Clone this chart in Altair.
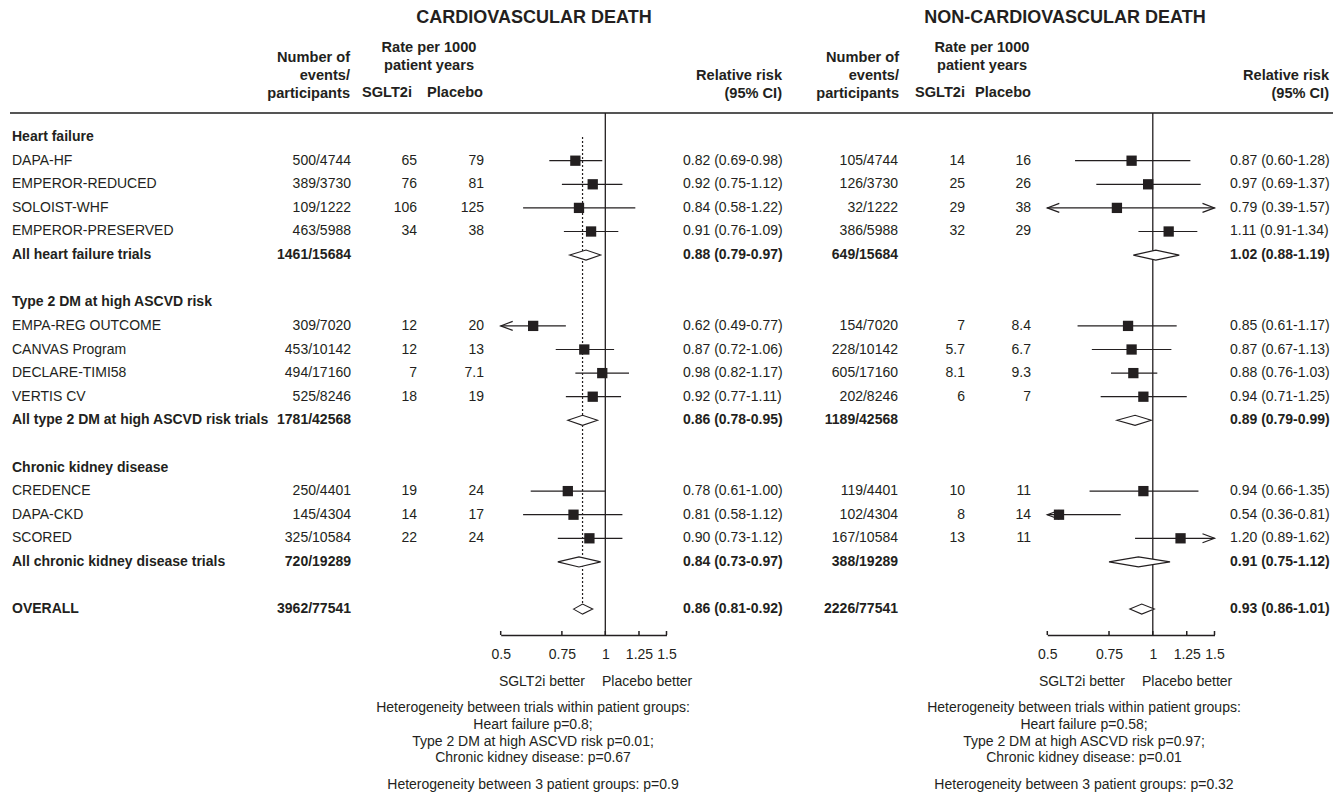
import altair as alt
import pandas as pd

FONT = "Liberation Sans"
INK = "#231f20"
FS = 14
HFS = 14.6

# ---------------- data ----------------
group_names = ["Heart failure", "Type 2 DM at high ASCVD risk", "Chronic kidney disease"]
pooled_names = ["All heart failure trials", "All type 2 DM at high ASCVD risk trials",
                "All chronic kidney disease trials", "OVERALL"]
trial_names = ["DAPA-HF", "EMPEROR-REDUCED", "SOLOIST-WHF", "EMPEROR-PRESERVED",
               "EMPA-REG OUTCOME", "CANVAS Program", "DECLARE-TIMI58", "VERTIS CV",
               "CREDENCE", "DAPA-CKD", "SCORED"]
trial_group = [0, 0, 0, 0, 1, 1, 1, 1, 2, 2, 2]

# Cardiovascular death
cv_events = ["500/4744", "389/3730", "109/1222", "463/5988", "309/7020", "453/10142",
             "494/17160", "525/8246", "250/4401", "145/4304", "325/10584"]
cv_rate_sglt2 = ["65", "76", "106", "34", "12", "12", "7", "18", "19", "14", "22"]
cv_rate_plac = ["79", "81", "125", "38", "20", "13", "7.1", "19", "24", "17", "24"]
cv_rr = [0.82, 0.92, 0.84, 0.91, 0.62, 0.87, 0.98, 0.92, 0.78, 0.81, 0.90]
cv_lo = [0.69, 0.75, 0.58, 0.76, 0.49, 0.72, 0.82, 0.77, 0.61, 0.58, 0.73]
cv_hi = [0.98, 1.12, 1.22, 1.09, 0.77, 1.06, 1.17, 1.11, 1.00, 1.12, 1.12]
cv_pooled_events = ["1461/15684", "1781/42568", "720/19289", "3962/77541"]
cv_pooled_rr = [0.88, 0.86, 0.84, 0.86]
cv_pooled_lo = [0.79, 0.78, 0.73, 0.81]
cv_pooled_hi = [0.97, 0.95, 0.97, 0.92]

# Non-cardiovascular death
ncv_events = ["105/4744", "126/3730", "32/1222", "386/5988", "154/7020", "228/10142",
              "605/17160", "202/8246", "119/4401", "102/4304", "167/10584"]
ncv_rate_sglt2 = ["14", "25", "29", "32", "7", "5.7", "8.1", "6", "10", "8", "13"]
ncv_rate_plac = ["16", "26", "38", "29", "8.4", "6.7", "9.3", "7", "11", "14", "11"]
ncv_rr = [0.87, 0.97, 0.79, 1.11, 0.85, 0.87, 0.88, 0.94, 0.94, 0.54, 1.20]
ncv_lo = [0.60, 0.69, 0.39, 0.91, 0.61, 0.67, 0.76, 0.71, 0.66, 0.36, 0.89]
ncv_hi = [1.28, 1.37, 1.57, 1.34, 1.17, 1.13, 1.03, 1.25, 1.35, 0.81, 1.62]
ncv_pooled_events = ["649/15684", "1189/42568", "388/19289", "2226/77541"]
ncv_pooled_rr = [1.02, 0.89, 0.91, 0.93]
ncv_pooled_lo = [0.88, 0.79, 0.75, 0.86]
ncv_pooled_hi = [1.19, 0.99, 1.12, 1.01]

axis_ticks = [0.5, 0.75, 1, 1.25, 1.5]

cv_notes = ["Heterogeneity between trials within patient groups:", "Heart failure p=0.8;",
            "Type 2 DM at high ASCVD risk p=0.01;", "Chronic kidney disease: p=0.67",
            "Heterogeneity between 3 patient groups: p=0.9"]
ncv_notes = ["Heterogeneity between trials within patient groups:", "Heart failure p=0.58;",
             "Type 2 DM at high ASCVD risk p=0.97;", "Chronic kidney disease: p=0.01",
             "Heterogeneity between 3 patient groups: p=0.32"]

# ---------------- row layout ----------------
heading_rows, trial_rows, pooled_rows = [], [], []
r = 0
for g in range(len(group_names)):
    heading_rows.append(r)
    r += 1
    for tg in trial_group:
        if tg == g:
            trial_rows.append(r)
            r += 1
    pooled_rows.append(r)
    r += 2
pooled_rows.append(r)  # overall


def ci_text(a, b, c):
    return [f"{x:.2f} ({y:.2f}-{z:.2f})" for x, y, z in zip(a, b, c)]


trials = pd.DataFrame({
    "row": trial_rows, "name": trial_names,
    "cv_ev": cv_events, "cv_s": cv_rate_sglt2, "cv_p": cv_rate_plac,
    "cv_rr": cv_rr, "cv_lo": cv_lo, "cv_hi": cv_hi, "cv_txt": ci_text(cv_rr, cv_lo, cv_hi),
    "ncv_ev": ncv_events, "ncv_s": ncv_rate_sglt2, "ncv_p": ncv_rate_plac,
    "ncv_rr": ncv_rr, "ncv_lo": ncv_lo, "ncv_hi": ncv_hi,
    "ncv_txt": ci_text(ncv_rr, ncv_lo, ncv_hi),
})
pooled = pd.DataFrame({
    "row": pooled_rows, "name": pooled_names,
    "cv_ev": cv_pooled_events, "cv_rr": cv_pooled_rr, "cv_lo": cv_pooled_lo, "cv_hi": cv_pooled_hi,
    "cv_txt": ci_text(cv_pooled_rr, cv_pooled_lo, cv_pooled_hi),
    "ncv_ev": ncv_pooled_events, "ncv_rr": ncv_pooled_rr, "ncv_lo": ncv_pooled_lo,
    "ncv_hi": ncv_pooled_hi,
    "ncv_txt": ci_text(ncv_pooled_rr, ncv_pooled_lo, ncv_pooled_hi),
})
headings = pd.DataFrame({"row": heading_rows, "name": group_names})
ticks_df = pd.DataFrame({"t": axis_ticks})

HALF = 0.212  # half height of diamonds in row units


def diamond_df(p):
    recs = []
    for rr_, e, lo, hi in zip(pooled["row"], pooled[p + "_rr"], pooled[p + "_lo"], pooled[p + "_hi"]):
        recs.append({"row": rr_, "x": lo, "yt": rr_, "yb": rr_})
        recs.append({"row": rr_, "x": e, "yt": rr_ - HALF, "yb": rr_ + HALF})
        recs.append({"row": rr_, "x": hi, "yt": rr_, "yb": rr_})
    return pd.DataFrame(recs)


one = pd.DataFrame({"a": [0]})
yscale = alt.Scale(domain=[-5.47, 21.097], reverse=True, nice=False, zero=False)


def Y(field):
    return alt.Y(field, type="quantitative", scale=yscale, axis=None, stack=None)


def label(txt, x, y, align="center", size=FS, weight="normal"):
    return alt.Chart(one).mark_text(
        text=txt, align=align, baseline="middle", font=FONT, fontSize=size,
        fontWeight=weight, color=INK
    ).encode(x=alt.value(x), y=alt.value(y))


def column(df, field, x, align, weight="normal"):
    return alt.Chart(df).mark_text(
        align=align, baseline="middle", font=FONT, fontSize=FS, fontWeight=weight, color=INK
    ).encode(x=alt.value(x), y=Y("row"), text=alt.Text(field, type="nominal"))


LEFT_ARROW = "M 1 -0.375 L 0 0 L 1 0.375"
RIGHT_ARROW = "M -1 -0.375 L 0 0 L -1 0.375"


def forest(p, rng, dotted):
    sc = alt.Scale(type="log", domain=[0.5, 1.5], range=rng, clamp=True, nice=False)
    ax = alt.Axis(orient="bottom", values=axis_ticks, format="~g", title=None, grid=False,
                  labelFont=FONT, labelFontSize=FS, labelColor=INK, labelFlush=False,
                  labelOverlap=False, labelPadding=12, domainColor=INK, domainWidth=1.5,
                  ticks=False)
    L = []
    L.append(alt.Chart(pd.DataFrame({"ref": [1.0]})).mark_rule(color=INK, strokeWidth=1.3).encode(
        x=alt.X("ref:Q", scale=sc, axis=ax), y=alt.value(105), y2=alt.value(627)))
    # upward tick marks on the axis
    L.append(alt.Chart(ticks_df).mark_rule(color=INK, strokeWidth=1.5).encode(
        x=alt.X("t:Q", scale=sc, axis=None), y=alt.value(623), y2=alt.value(627)))
    if dotted:
        L.append(alt.Chart(pooled.tail(1)).mark_rule(color=INK, strokeWidth=1.2, strokeDash=[2, 2]).encode(
            x=alt.X(p + "_rr:Q", scale=sc, axis=None), y=alt.value(129), y2=alt.value(595)))
    L.append(alt.Chart(trials).mark_rule(color=INK, strokeWidth=1.2).encode(
        x=alt.X(p + "_lo:Q", scale=sc, axis=None), x2=p + "_hi:Q", y=Y("row")))
    L.append(alt.Chart(trials).transform_filter(f"datum.{p}_lo < 0.5").mark_point(
        shape=LEFT_ARROW, size=576, filled=False, color=INK, strokeWidth=1.2, opacity=1).encode(
        x=alt.X(p + "_lo:Q", scale=sc, axis=None), y=Y("row")))
    L.append(alt.Chart(trials).transform_filter(f"datum.{p}_hi > 1.5").mark_point(
        shape=RIGHT_ARROW, size=576, filled=False, color=INK, strokeWidth=1.2, opacity=1).encode(
        x=alt.X(p + "_hi:Q", scale=sc, axis=None), y=Y("row")))
    L.append(alt.Chart(trials).mark_square(size=106, color=INK, opacity=1).encode(
        x=alt.X(p + "_rr:Q", scale=sc, axis=None), y=Y("row")))
    L.append(alt.Chart(diamond_df(p)).mark_area(
        orient="vertical", fill="white", stroke=INK, strokeWidth=1.1, fillOpacity=1).encode(
        x=alt.X("x:Q", scale=sc, axis=None), y=Y("yt"), y2="yb:Q", detail="row:N"))
    return L


layers = []
# horizontal separator
layers.append(alt.Chart(one).mark_rule(color="#555555", strokeWidth=2).encode(
    x=alt.value(2), x2=alt.value(1325), y=alt.value(105)))

# titles
layers.append(label("CARDIOVASCULAR DEATH", 526, 10, size=18, weight="bold"))
layers.append(label("NON-CARDIOVASCULAR DEATH", 1057, 10, size=18, weight="bold"))

# column headers
for txt, x, y, al in [("Number of", 342, 50, "right"), ("events/", 342, 68, "right"),
                      ("participants", 342, 86, "right"),
                      ("Rate per 1000", 421, 40, "center"), ("patient years", 421, 58, "center"),
                      ("SGLT2i", 404, 85, "right"), ("Placebo", 475, 85, "right"),
                      ("Relative risk", 774, 68, "right"), ("(95% CI)", 774, 86, "right"),
                      ("Number of", 891, 50, "right"), ("events/", 891, 68, "right"),
                      ("participants", 891, 86, "right"),
                      ("Rate per 1000", 974, 40, "center"), ("patient years", 974, 58, "center"),
                      ("SGLT2i", 957, 85, "right"), ("Placebo", 1023, 85, "right"),
                      ("Relative risk", 1321, 68, "right"), ("(95% CI)", 1321, 86, "right")]:
    layers.append(label(txt, x, y, align=al, size=HFS, weight="bold"))

# row labels
layers.append(column(headings, "name", 4, "left", "bold"))
layers.append(column(trials, "name", 4, "left"))
layers.append(column(pooled, "name", 4, "left", "bold"))

# CV table columns
layers.append(column(trials, "cv_ev", 343, "right"))
layers.append(column(pooled, "cv_ev", 343, "right", "bold"))
layers.append(column(trials, "cv_s", 409, "right"))
layers.append(column(trials, "cv_p", 476, "right"))
layers.append(column(trials, "cv_txt", 675, "left"))
layers.append(column(pooled, "cv_txt", 675, "left", "bold"))

# NCV table columns
layers.append(column(trials, "ncv_ev", 890, "right"))
layers.append(column(pooled, "ncv_ev", 890, "right", "bold"))
layers.append(column(trials, "ncv_s", 957, "right"))
layers.append(column(trials, "ncv_p", 1023, "right"))
layers.append(column(trials, "ncv_txt", 1222, "left"))
layers.append(column(pooled, "ncv_txt", 1222, "left", "bold"))

# forests
layers += forest("cv", [492.7, 658.5], True)
layers += forest("ncv", [1039.3, 1206.5], False)

# favour labels
layers.append(label("SGLT2i better", 577, 674, align="right"))
layers.append(label("Placebo better", 594, 674, align="left"))
layers.append(label("SGLT2i better", 1117, 674, align="right"))
layers.append(label("Placebo better", 1134, 674, align="left"))

# footnotes
for notes, cx in [(cv_notes, 525), (ncv_notes, 1076)]:
    for txt, y in zip(notes, [700, 717, 734, 750, 777]):
        layers.append(label(txt, cx, y))

chart = alt.layer(*layers).resolve_scale(x="independent").properties(
    width=1325, height=627,
    padding={"left": 0, "top": 0, "right": 0, "bottom": 158},
    autosize=alt.AutoSizeParams(type="none"),
).configure_view(stroke=None)

chart.save("out.html", embed_options={"renderer": "svg", "actions": False})
